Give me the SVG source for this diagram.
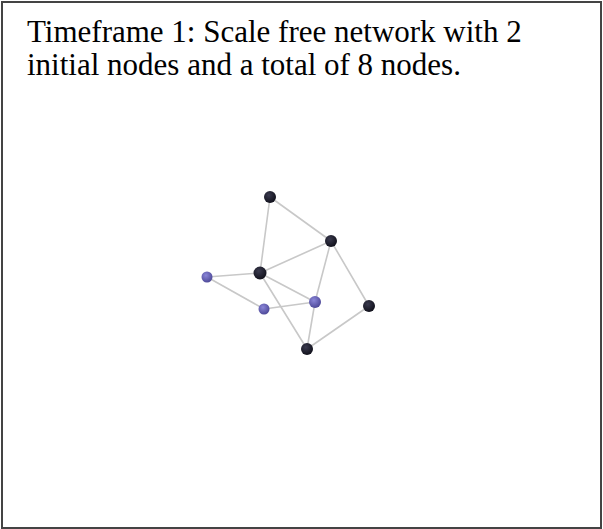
<svg xmlns="http://www.w3.org/2000/svg" width="603" height="529" viewBox="0 0 603 529">
<defs>
<radialGradient id="gDark" cx="0.4" cy="0.35" r="0.7">
<stop offset="0" stop-color="#3a3a4e"/>
<stop offset="1" stop-color="#0e0e18"/>
</radialGradient>
<radialGradient id="gPurple" cx="0.4" cy="0.35" r="0.7">
<stop offset="0" stop-color="#8a86d8"/>
<stop offset="1" stop-color="#4a4594"/>
</radialGradient>
<style>
.frame{fill:#ffffff;stroke:#444444;stroke-width:2}
.title{font-family:"Liberation Serif","Times New Roman",serif;font-size:31px;fill:#000000}
.edge{stroke:#c8c8c8;stroke-width:1.6;fill:none;stroke-linecap:round}
.dark{fill:url(#gDark)}
.purple{fill:url(#gPurple)}
</style>
</defs>
<rect class="frame" x="2" y="2" width="599" height="526"/>
<g id="title">
<text class="title" x="27" y="42">Timeframe 1: Scale free network with 2</text>
<text class="title" x="27" y="75">initial nodes and a total of 8 nodes.</text>
</g>
<g id="connectors">
<line class="edge" x1="270" y1="197" x2="331" y2="241"/>
<line class="edge" x1="270" y1="197" x2="260" y2="273"/>
<line class="edge" x1="331" y1="241" x2="260" y2="273"/>
<line class="edge" x1="331" y1="241" x2="315" y2="302"/>
<line class="edge" x1="331" y1="241" x2="369" y2="306"/>
<line class="edge" x1="207" y1="277" x2="260" y2="273"/>
<line class="edge" x1="207" y1="277" x2="264" y2="309"/>
<line class="edge" x1="264" y1="309" x2="315" y2="302"/>
<line class="edge" x1="260" y1="273" x2="315" y2="302"/>
<line class="edge" x1="260" y1="273" x2="307" y2="349"/>
<line class="edge" x1="315" y1="302" x2="307" y2="349"/>
<line class="edge" x1="369" y1="306" x2="307" y2="349"/>
</g>
<g id="n1"><circle class="dark" cx="270" cy="197" r="6"/></g>
<g id="n2"><circle class="dark" cx="331" cy="241" r="6"/></g>
<g id="n3"><circle class="dark" cx="260" cy="273" r="6.5"/></g>
<g id="n4"><circle class="purple" cx="207" cy="277" r="5.5"/></g>
<g id="n5"><circle class="purple" cx="264" cy="309" r="5.5"/></g>
<g id="n6"><circle class="purple" cx="315" cy="302" r="6"/></g>
<g id="n7"><circle class="dark" cx="369" cy="306" r="6"/></g>
<g id="n8"><circle class="dark" cx="307" cy="349" r="6"/></g>
</svg>
